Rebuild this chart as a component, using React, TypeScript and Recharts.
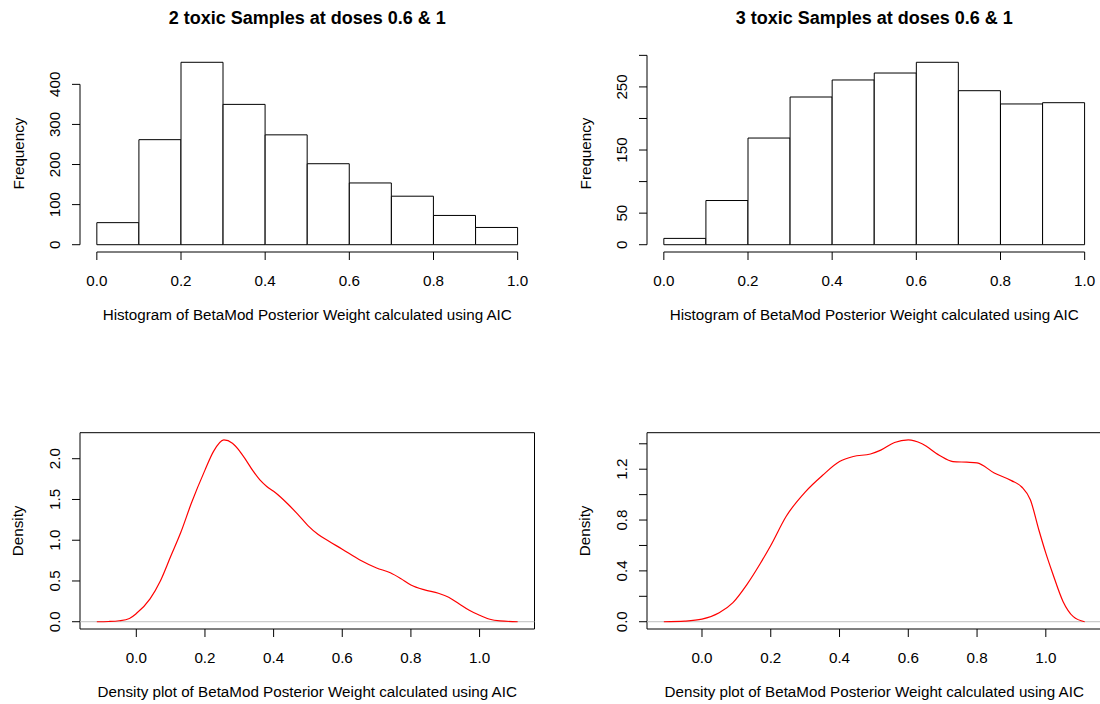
import React from 'react';
import {
  Bar,
  ComposedChart,
  Line,
  ReferenceArea,
  ReferenceLine,
  XAxis,
  YAxis,
} from 'recharts';

// histogram break points and counts per bin
const breaks = [0, 0.1, 0.2, 0.3, 0.4, 0.5, 0.6, 0.7, 0.8, 0.9, 1.0];
const freq2Toxic = [55, 262, 455, 350, 274, 202, 154, 121, 73, 43];
const freq3Toxic = [10, 70, 169, 234, 261, 272, 289, 244, 223, 225];

const unitTicks = [0, 0.2, 0.4, 0.6, 0.8, 1.0];
const unitLabels = ['0.0', '0.2', '0.4', '0.6', '0.8', '1.0'];

const freq2Ticks = [0, 100, 200, 300, 400];
const freq2Labels = ['0', '100', '200', '300', '400'];
// R drops the labels that would overlap
const freq3Ticks = [0, 50, 100, 150, 200, 250, 300];
const freq3Labels = ['0', '50', '', '150', '', '250', ''];

// kernel density curves
const dens2X = [-0.115, -0.08, -0.05, -0.02, 0, 0.04, 0.07, 0.1, 0.13, 0.16, 0.2, 0.225, 0.255, 0.28, 0.3, 0.32, 0.34, 0.36, 0.38, 0.4, 0.42, 0.44, 0.47, 0.5, 0.53, 0.56, 0.6, 0.65, 0.7, 0.74, 0.77, 0.8, 0.84, 0.88, 0.91, 0.94, 0.97, 1.0, 1.03, 1.06, 1.111];
const dens2Y = [0, 0.003, 0.012, 0.04, 0.1, 0.28, 0.5, 0.8, 1.1, 1.45, 1.86, 2.09, 2.23, 2.19, 2.1, 1.98, 1.85, 1.74, 1.66, 1.6, 1.53, 1.45, 1.32, 1.18, 1.07, 0.99, 0.89, 0.76, 0.66, 0.6, 0.53, 0.45, 0.39, 0.35, 0.3, 0.22, 0.14, 0.08, 0.03, 0.01, 0];
const dens3X = [-0.111, -0.05, 0, 0.05, 0.09, 0.13, 0.17, 0.2, 0.245, 0.3, 0.35, 0.4, 0.44, 0.49, 0.52, 0.56, 0.6, 0.64, 0.69, 0.73, 0.77, 0.8, 0.85, 0.9, 0.93, 0.955, 0.98, 1.0, 1.02, 1.05, 1.08, 1.113];
const dens3Y = [0, 0.005, 0.02, 0.07, 0.15, 0.29, 0.46, 0.6, 0.83, 1.02, 1.15, 1.26, 1.3, 1.32, 1.35, 1.41, 1.43, 1.4, 1.31, 1.26, 1.255, 1.25, 1.17, 1.11, 1.06, 0.96, 0.72, 0.54, 0.38, 0.16, 0.04, 0];

const dens2Ticks = [0, 0.5, 1.0, 1.5, 2.0];
const dens2Labels = ['0.0', '0.5', '1.0', '1.5', '2.0'];
const dens3Ticks = [0, 0.2, 0.4, 0.6, 0.8, 1.0, 1.2, 1.4];
const dens3Labels = ['0.0', '', '0.4', '', '0.8', '', '1.2', ''];

const FONT = '"Liberation Sans", Arial, Helvetica, sans-serif';
const txt = { fontFamily: FONT, fontSize: 15.2, fill: '#000' };

const W = 550;
const H = 352;
const PLOT_LEFT = 80;
const PLOT_RIGHT = 15.5;

// R style: extend a range by 4% on each side
const pad = (lo: number, hi: number): [number, number] => {
  const d = (hi - lo) * 0.04;
  return [lo - d, hi + d];
};

const xTick = (ticks: number[], labels: string[]) => (p: any) => {
  const i = ticks.indexOf(p.payload.value);
  return (
    <text x={p.x} y={p.y + 20} textAnchor="middle" dominantBaseline="central" style={txt}>
      {labels[i]}
    </text>
  );
};

const yTick = (ticks: number[], labels: string[]) => (p: any) => {
  const i = ticks.indexOf(p.payload.value);
  const x = p.x - 17;
  return (
    <text x={x} y={p.y} transform={`rotate(-90 ${x} ${p.y})`} textAnchor="middle" dominantBaseline="central" style={txt}>
      {labels[i]}
    </text>
  );
};

const xTitle = (text: string) => (p: any) => {
  const vb = p.viewBox;
  return (
    <text x={vb.x + vb.width / 2} y={vb.y + 62} textAnchor="middle" dominantBaseline="central" style={txt}>
      {text}
    </text>
  );
};

const yTitle = (text: string) => (p: any) => {
  const vb = p.viewBox;
  const x = vb.x + vb.width - 62;
  const y = vb.y + vb.height / 2;
  return (
    <text x={x} y={y} transform={`rotate(-90 ${x} ${y})`} textAnchor="middle" dominantBaseline="central" style={txt}>
      {text}
    </text>
  );
};

function Title({ text }: { text: string }) {
  return (
    <div
      style={{
        position: 'absolute',
        left: PLOT_LEFT,
        width: W - PLOT_LEFT - PLOT_RIGHT,
        top: 8,
        textAlign: 'center',
        fontFamily: FONT,
        fontWeight: 'bold',
        fontSize: 18,
        lineHeight: '20px',
      }}
    >
      {text}
    </div>
  );
}

function HistPanel(props: {
  left: number;
  title: string;
  counts: number[];
  yTicks: number[];
  yLabels: string[];
}) {
  const { left, title, counts, yTicks, yLabels } = props;
  const data = counts.map((c, i) => ({ x: (breaks[i] + breaks[i + 1]) / 2, count: c }));
  const xDom = pad(breaks[0], breaks[breaks.length - 1]);
  const yDom = pad(0, Math.max(...counts));

  return (
    <div style={{ position: 'absolute', left, top: 0, width: W, height: H }}>
      <Title text={title} />
      <ComposedChart
        width={W}
        height={H}
        data={data}
        margin={{ top: 55, right: PLOT_RIGHT, bottom: 0, left: 0 }}
        barCategoryGap={0}
        barGap={0}
      >
        <XAxis
          dataKey="x"
          type="number"
          domain={xDom}
          allowDataOverflow
          ticks={unitTicks}
          interval={0}
          height={100}
          axisLine={false}
          tickLine={{ stroke: '#000' }}
          tickSize={8}
          tickMargin={0}
          tick={xTick(unitTicks, unitLabels)}
          label={xTitle('Histogram of BetaMod Posterior Weight calculated using AIC')}
        />
        <YAxis
          type="number"
          domain={yDom}
          allowDataOverflow
          ticks={yTicks}
          interval={0}
          width={PLOT_LEFT}
          axisLine={false}
          tickLine={{ stroke: '#000' }}
          tickSize={8}
          tickMargin={0}
          tick={yTick(yTicks, yLabels)}
          label={yTitle('Frequency')}
        />
        <Bar dataKey="count" fill="#fff" stroke="#000" strokeWidth={1} isAnimationActive={false} />
        <ReferenceLine
          segment={[{ x: xDom[0], y: yTicks[0] }, { x: xDom[0], y: yTicks[yTicks.length - 1] }]}
          stroke="#000"
          ifOverflow="visible"
        />
        <ReferenceLine
          segment={[{ x: unitTicks[0], y: yDom[0] }, { x: unitTicks[unitTicks.length - 1], y: yDom[0] }]}
          stroke="#000"
          ifOverflow="visible"
        />
      </ComposedChart>
    </div>
  );
}

function DensityPanel(props: {
  left: number;
  xs: number[];
  ys: number[];
  yTicks: number[];
  yLabels: string[];
}) {
  const { left, xs, ys, yTicks, yLabels } = props;
  const data = xs.map((x, i) => ({ x, d: ys[i] }));
  const xDom = pad(xs[0], xs[xs.length - 1]);
  const yDom = pad(0, Math.max(...ys));

  return (
    <div style={{ position: 'absolute', left, top: H, width: W, height: H }}>
      <ComposedChart
        width={W}
        height={H}
        data={data}
        margin={{ top: 80.7, right: PLOT_RIGHT, bottom: 0, left: 0 }}
      >
        <XAxis
          dataKey="x"
          type="number"
          domain={xDom}
          allowDataOverflow
          ticks={unitTicks}
          interval={0}
          height={75}
          axisLine={false}
          tickLine={{ stroke: '#000' }}
          tickSize={8}
          tickMargin={0}
          tick={xTick(unitTicks, unitLabels)}
          label={xTitle('Density plot of BetaMod Posterior Weight calculated using AIC')}
        />
        <YAxis
          type="number"
          domain={yDom}
          allowDataOverflow
          ticks={yTicks}
          interval={0}
          width={PLOT_LEFT}
          axisLine={false}
          tickLine={{ stroke: '#000' }}
          tickSize={8}
          tickMargin={0}
          tick={yTick(yTicks, yLabels)}
          label={yTitle('Density')}
        />
        <ReferenceLine y={0} stroke="#bebebe" strokeWidth={1} />
        <Line
          dataKey="d"
          type="monotone"
          stroke="#ff0000"
          strokeWidth={1.2}
          dot={false}
          isAnimationActive={false}
        />
        <ReferenceArea
          x1={xDom[0]}
          x2={xDom[1]}
          y1={yDom[0]}
          y2={yDom[1]}
          fill="none"
          fillOpacity={0}
          stroke="#000"
          strokeWidth={1}
          ifOverflow="visible"
        />
      </ComposedChart>
    </div>
  );
}

export default function App() {
  return (
    <div
      style={{
        position: 'absolute',
        left: 0,
        top: 0,
        width: 1100,
        height: 704,
        overflow: 'hidden',
        background: '#fff',
      }}
    >
      <HistPanel
        left={0}
        title="2 toxic Samples at doses 0.6 & 1"
        counts={freq2Toxic}
        yTicks={freq2Ticks}
        yLabels={freq2Labels}
      />
      <HistPanel
        left={567}
        title="3 toxic Samples at doses 0.6 & 1"
        counts={freq3Toxic}
        yTicks={freq3Ticks}
        yLabels={freq3Labels}
      />
      <DensityPanel left={0} xs={dens2X} ys={dens2Y} yTicks={dens2Ticks} yLabels={dens2Labels} />
      <DensityPanel left={567} xs={dens3X} ys={dens3Y} yTicks={dens3Ticks} yLabels={dens3Labels} />
    </div>
  );
}
